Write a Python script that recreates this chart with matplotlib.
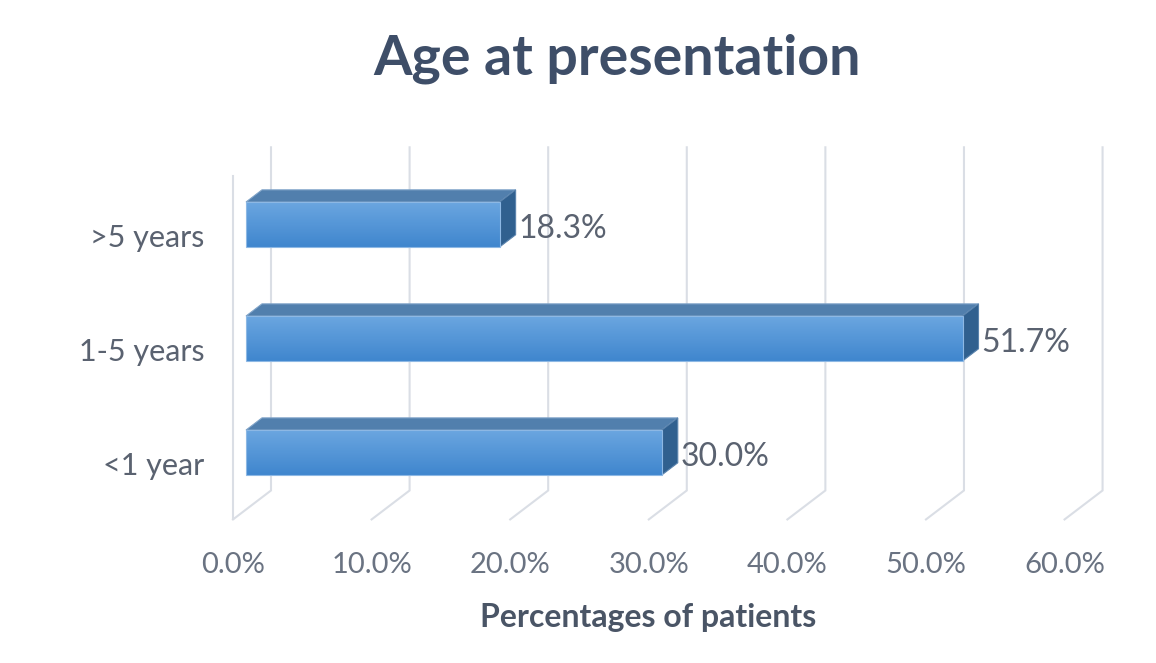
import numpy as np
import matplotlib
matplotlib.use('Agg')
import matplotlib.pyplot as plt
from matplotlib.patches import Polygon

# data
categories = ['<1 year', '1-5 years', '>5 years']
values = [30.0, 51.7, 18.3]
xticks = [0, 10, 20, 30, 40, 50, 60]
xtick_labels = ['0.0%', '10.0%', '20.0%', '30.0%', '40.0%', '50.0%', '60.0%']

plt.rcParams['font.family'] = ['Lato', 'DejaVu Sans']

fig = plt.figure(figsize=(11.56, 6.63), dpi=100)
ax = fig.add_axes([0, 0, 1, 1])
ax.axis('off')

# fake 3d: depth offset (in data units) for depth 0..1
DX, DY = 2.742, 0.254
D0, D1 = 0.342, 0.763     # front / back of the bars
FLOOR, TOP = -0.5, 2.51
HH = 0.197                # half bar height


def proj(v, h, d):
    return (v + (d - D0) * DX, h + (d - D0) * DY)


grid_col = '#DADEE5'
# walls + gridlines
for t in xticks:
    p0 = proj(t, FLOOR, 0)
    p1 = proj(t, FLOOR, 1)
    p2 = proj(t, TOP, 1)
    ax.plot([p0[0], p1[0], p2[0]], [p0[1], p1[1], p2[1]], color=grid_col, lw=1.5,
            solid_joinstyle='miter', zorder=1)
p0 = proj(0, FLOOR, 0)
p1 = proj(0, TOP, 0)
ax.plot([p0[0], p1[0]], [p0[1], p1[1]], color=grid_col, lw=1.5, zorder=1)

# bars
grad = np.linspace(0, 1, 256).reshape(-1, 1)
cmap = matplotlib.colors.LinearSegmentedColormap.from_list('bar', ['#3F86CE', '#6BA6E0'])
for i, val in enumerate(values):
    front = [proj(0, i - HH, D0), proj(val, i - HH, D0), proj(val, i + HH, D0), proj(0, i + HH, D0)]
    top = [proj(0, i + HH, D0), proj(val, i + HH, D0), proj(val, i + HH, D1), proj(0, i + HH, D1)]
    side = [proj(val, i - HH, D0), proj(val, i - HH, D1), proj(val, i + HH, D1), proj(val, i + HH, D0)]
    ax.add_patch(Polygon(top, closed=True, fc='#517FAD', ec='#7FA3C8', lw=0.8, zorder=3))
    ax.add_patch(Polygon(side, closed=True, fc='#30608F', ec='#5A83AD', lw=0.8, zorder=3))
    fp = Polygon(front, closed=True, fc='none', ec='#8DB8E4', lw=0.8, zorder=5)
    ax.add_patch(fp)
    im = ax.imshow(grad, extent=(0, val, i - HH, i + HH), origin='lower', cmap=cmap,
                   aspect='auto', zorder=4, interpolation='bilinear')
    im.set_clip_path(fp)
    ax.text(val + (D1 - D0) * DX + 0.2, i - 0.12, f'{val:.1f}%', ha='left', va='baseline',
            fontsize=23, color='#5A6270', zorder=6)

ax.set_xlim(-17.75, 65.66)
ax.set_ylim(-1.846, 3.969)

# axis labels
for t, lab in zip(xticks, xtick_labels):
    x, _ = proj(t, FLOOR, 0)
    ax.text(x, -1.057, lab, ha='center', va='baseline', fontsize=21, color='#6A7382')
for i, cat in enumerate(categories):
    ax.text(-3.0, i - 0.2, cat, ha='right', va='baseline', fontsize=22, color='#5A6270')

fig.text(617.5 / 1156, 1 - 75 / 663, 'Age at presentation', ha='center', va='baseline',
         fontsize=40, fontweight='bold', color='#3E4E68')
fig.text(648.5 / 1156, 1 - 627 / 663, 'Percentages of patients', ha='center', va='baseline',
         fontsize=23, fontweight='bold', color='#4A5566')

fig.savefig('out.png', dpi=100)
